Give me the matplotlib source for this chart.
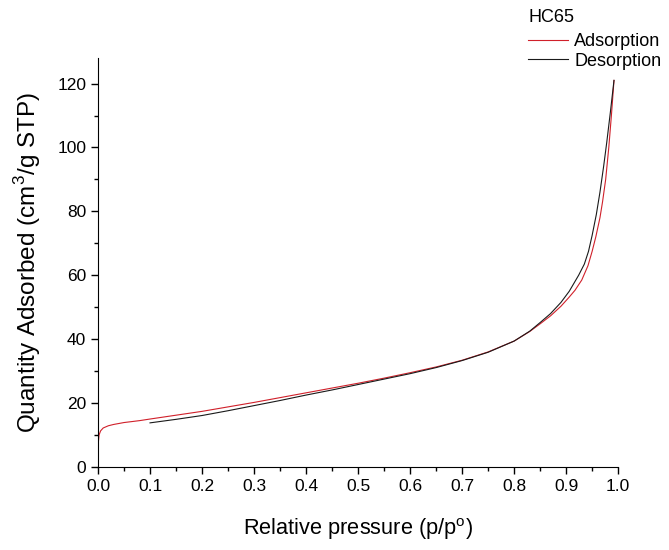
import matplotlib
matplotlib.use("Agg")
import matplotlib.pyplot as plt
from matplotlib.ticker import MultipleLocator

plt.rcParams['font.family'] = ['Liberation Sans', 'DejaVu Sans']

# Adsorption branch (p/p0, quantity adsorbed)
ads_p = [0.0005, 0.002, 0.005, 0.01, 0.02, 0.03, 0.05, 0.08, 0.10, 0.15, 0.20, 0.25,
         0.30, 0.35, 0.40, 0.45, 0.50, 0.55, 0.60, 0.65, 0.70, 0.75, 0.80, 0.83,
         0.85, 0.87, 0.89, 0.905, 0.917, 0.93, 0.942, 0.95, 0.957, 0.965, 0.97, 0.976,
         0.982, 0.987, 0.992]
ads_q = [7.5, 10.0, 11.3, 12.2, 12.9, 13.3, 13.9, 14.5, 15.0, 16.2, 17.4, 18.8,
         20.2, 21.7, 23.2, 24.7, 26.2, 27.8, 29.5, 31.3, 33.4, 36.0, 39.4, 42.4,
         44.8, 47.3, 50.3, 53.0, 55.3, 58.5, 63.0, 67.5, 72.0, 78.0, 83.0, 90.0,
         100.0, 110.0, 121.0]

# Desorption branch
des_p = [0.992, 0.985, 0.978, 0.972, 0.965, 0.958, 0.95, 0.943, 0.935, 0.924,
         0.915, 0.906, 0.89, 0.87, 0.85, 0.83, 0.80, 0.75, 0.70, 0.65, 0.60,
         0.55, 0.50, 0.45, 0.40, 0.35, 0.30, 0.25, 0.20, 0.15, 0.10]
des_q = [121.0, 111.0, 101.5, 94.0, 86.0, 79.0, 72.5, 67.5, 63.5, 60.0,
         57.5, 55.0, 51.5, 48.0, 45.2, 42.5, 39.4, 35.9, 33.3, 31.1, 29.2,
         27.5, 25.8, 24.1, 22.5, 20.8, 19.2, 17.6, 16.1, 14.9, 13.8]

fig = plt.figure(figsize=(6.69, 5.5), dpi=100)
ax = fig.add_axes([0.1465, 0.151, 0.7775, 0.7435])

ax.plot(ads_p, ads_q, color='#d0202a', lw=0.8, label='Adsorption')
ax.plot(des_p, des_q, color='#1a1a1a', lw=0.8, label='Desorption')

ax.set_xlim(0, 1.0)
ax.set_ylim(0, 128)
ax.spines['top'].set_visible(False)
ax.spines['right'].set_visible(False)
ax.xaxis.set_major_locator(MultipleLocator(0.1))
ax.xaxis.set_minor_locator(MultipleLocator(0.05))
ax.yaxis.set_major_locator(MultipleLocator(20))
ax.yaxis.set_minor_locator(MultipleLocator(10))
ax.tick_params(which='major', direction='out', length=5, width=1, labelsize=12.5)
ax.tick_params(which='minor', direction='out', length=3, width=1)
ax.set_xticklabels([f'{v:.1f}' for v in ax.get_xticks()])
ax.set_xlabel('Relative pressure (p/p$^{\\mathregular{o}}$)', fontsize=15.7, labelpad=16)
ax.set_ylabel('Quantity Adsorbed (cm$^{\\mathregular{3}}$/g STP)', fontsize=17.5, labelpad=10)

fig.text(529 / 669, 1 - 18 / 550, 'HC65', fontsize=13, ha='left', va='center')
leg = ax.legend(loc='upper left', bbox_to_anchor=(528 / 669, 1 - 33 / 550),
                bbox_transform=fig.transFigure, frameon=False, fontsize=13,
                handlelength=2.2, handletextpad=0.35, labelspacing=0.15,
                borderpad=0, borderaxespad=0)

fig.savefig('out.png', dpi=100)
